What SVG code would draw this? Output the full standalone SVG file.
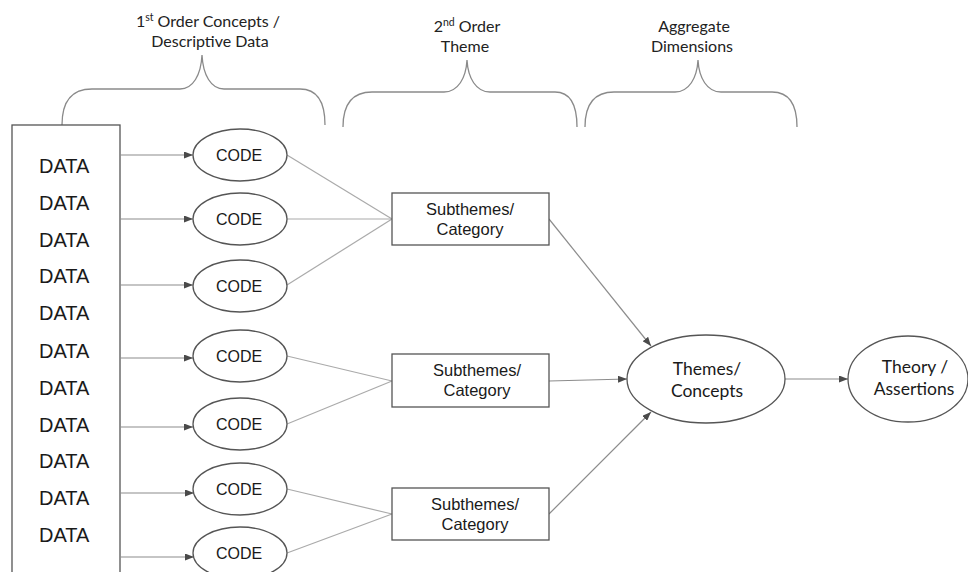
<svg xmlns="http://www.w3.org/2000/svg" width="968" height="572" viewBox="0 0 968 572">
<defs>
<style>
.hdr{font-family:Lato,"Open Sans",sans-serif;font-size:16px;fill:#222;text-anchor:middle}
.brace{fill:none;stroke:#8a8a8a;stroke-width:1.3}
.data{font-family:"Liberation Sans",Arial,sans-serif;font-size:20px;fill:#1a1a1a}
.code{font-family:"Liberation Sans",Arial,sans-serif;font-size:16px;fill:#1a1a1a;text-anchor:middle}
.sub{font-family:"Liberation Sans",Arial,sans-serif;font-size:16.5px;fill:#1a1a1a;text-anchor:middle}
.big{font-family:Lato,"Open Sans",sans-serif;font-size:17.5px;fill:#1a1a1a;text-anchor:middle}
.shape{fill:#fff;stroke:#555;stroke-width:1.3}
.arr{fill:none;stroke:#8c8c8c;stroke-width:1.2;marker-end:url(#ah)}
.ln{fill:none;stroke:#aaa;stroke-width:1.2}
</style>
<marker id="ah" markerUnits="userSpaceOnUse" markerWidth="9" markerHeight="7" refX="9" refY="3.5" orient="auto">
<path d="M0,0 L9,3.5 L0,7 z" fill="#4a4a4a"/>
</marker>
</defs>
<rect width="968" height="572" fill="#fff"/>

<g id="headers">
<text class="hdr" x="208" y="27">1<tspan font-size="10.5" dy="-6">st</tspan><tspan dy="6"> Order Concepts /</tspan></text>
<text class="hdr" x="210" y="47">Descriptive Data</text>
<text class="hdr" x="467" y="32">2<tspan font-size="10.5" dy="-6">nd</tspan><tspan dy="6"> Order</tspan></text>
<text class="hdr" x="465" y="52">Theme</text>
<text class="hdr" x="694" y="32">Aggregate</text>
<text class="hdr" x="692" y="52">Dimensions</text>
</g>

<g id="braces">
<path class="brace" d="M62,125 C62,103 70,89 92,89 L180,89 C193,89 201,75 202,55 C203,75 211,89 224,89 L300,89 C318,89 325,102 325,125"/>
<path class="brace" d="M343,127 C343,105 352,92 372,92 L444,92 C458,92 466,78 467,60 C468,78 476,92 490,92 L555,92 C570,92 577,105 577,127"/>
<path class="brace" d="M585,127 C585,105 594,92 614,92 L675,92 C689,92 697,78 698,60 C699,78 707,92 721,92 L772,92 C789,92 797,105 797,127"/>
</g>

<g id="data">
<rect class="shape" x="12" y="125" width="108" height="470"/>
<text class="data" x="39" y="173">DATA</text>
<text class="data" x="39" y="210">DATA</text>
<text class="data" x="39" y="247">DATA</text>
<text class="data" x="39" y="283">DATA</text>
<text class="data" x="39" y="320">DATA</text>
<text class="data" x="39" y="358">DATA</text>
<text class="data" x="39" y="395">DATA</text>
<text class="data" x="39" y="432">DATA</text>
<text class="data" x="39" y="468">DATA</text>
<text class="data" x="39" y="505">DATA</text>
<text class="data" x="39" y="542">DATA</text>
</g>

<g id="connectors">
<path class="arr" d="M120,155 L193,155"/>
<path class="arr" d="M120,219 L193,219"/>
<path class="arr" d="M120,285 L193,285"/>
<path class="arr" d="M120,358 L193,358"/>
<path class="arr" d="M120,427 L193,427"/>
<path class="arr" d="M120,493 L194,493"/>
<path class="arr" d="M120,557 L194,557"/>
<path class="ln" d="M287,155 L392,219"/>
<path class="ln" d="M287,219 L392,219"/>
<path class="ln" d="M287,285 L392,219"/>
<path class="ln" d="M287,356 L392,381"/>
<path class="ln" d="M287,424 L392,381"/>
<path class="ln" d="M287,489 L392,514"/>
<path class="ln" d="M287,553 L392,514"/>
<path class="arr" d="M549,219 L651,346"/>
<path class="arr" d="M549,381 L627,379"/>
<path class="arr" d="M549,514 L651,412"/>
<path class="arr" d="M785,379 L848,379"/>
</g>

<g id="code1"><ellipse class="shape" cx="240" cy="155" rx="47" ry="26"/><text class="code" x="239" y="161">CODE</text></g>
<g id="code2"><ellipse class="shape" cx="240" cy="219" rx="47" ry="26"/><text class="code" x="239" y="225">CODE</text></g>
<g id="code3"><ellipse class="shape" cx="240" cy="286" rx="47" ry="26"/><text class="code" x="239" y="292">CODE</text></g>
<g id="code4"><ellipse class="shape" cx="240" cy="356" rx="47" ry="26"/><text class="code" x="239" y="362">CODE</text></g>
<g id="code5"><ellipse class="shape" cx="240" cy="424" rx="47" ry="26"/><text class="code" x="239" y="430">CODE</text></g>
<g id="code6"><ellipse class="shape" cx="240" cy="489" rx="47" ry="26"/><text class="code" x="239" y="495">CODE</text></g>
<g id="code7"><ellipse class="shape" cx="240" cy="553" rx="47" ry="26"/><text class="code" x="239" y="559">CODE</text></g>

<g id="sub1"><rect class="shape" x="392" y="193" width="157" height="52"/><text class="sub" x="470" y="215">Subthemes/</text><text class="sub" x="470" y="235">Category</text></g>
<g id="sub2"><rect class="shape" x="392" y="354" width="157" height="53"/><text class="sub" x="477" y="376">Subthemes/</text><text class="sub" x="477" y="396">Category</text></g>
<g id="sub3"><rect class="shape" x="392" y="488" width="157" height="52"/><text class="sub" x="475" y="510">Subthemes/</text><text class="sub" x="475" y="530">Category</text></g>

<g id="themes"><ellipse class="shape" cx="706" cy="379" rx="79" ry="44"/><text class="big" x="707" y="375">Themes/</text><text class="big" x="707" y="397">Concepts</text></g>
<g id="theory"><ellipse class="shape" cx="908" cy="379" rx="60" ry="43"/><text class="big" x="915" y="373">Theory /</text><text class="big" x="914" y="395">Assertions</text></g>
</svg>
